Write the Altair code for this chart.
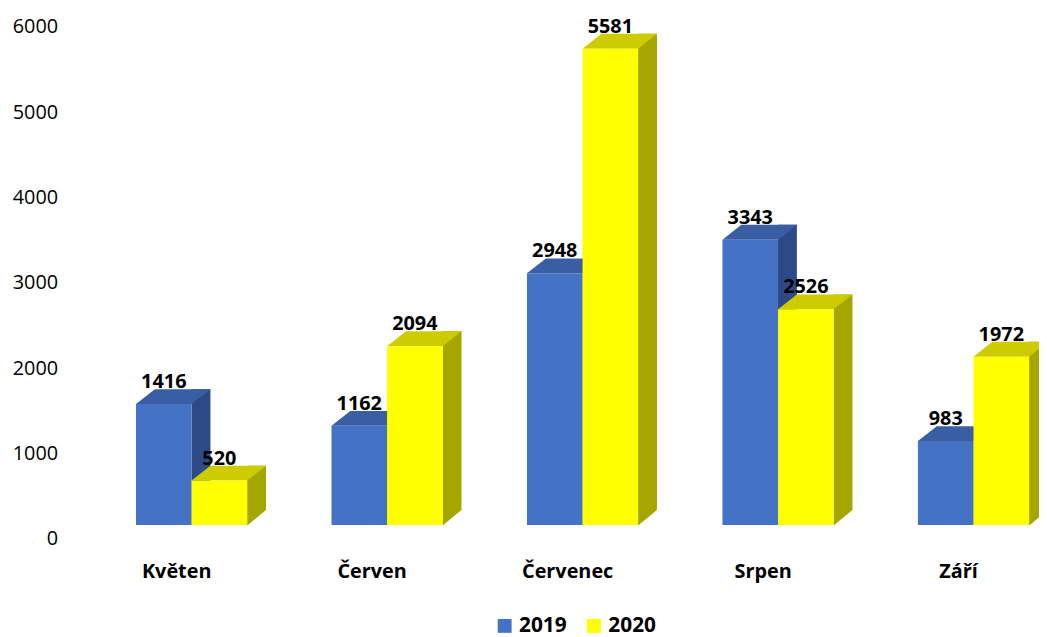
import altair as alt
import pandas as pd

categories = ["Květen", "Červen", "Červenec", "Srpen", "Září"]
years = ["2019", "2020"]
values_2019 = [1416, 1162, 2948, 3343, 983]
values_2020 = [520, 2094, 5581, 2526, 1972]
y_ticks = [0, 1000, 2000, 3000, 4000, 5000, 6000]

front_colors = ["#4472C4", "#FFFF00"]
top_colors = {"2019": "#3A5EA4", "2020": "#CCCC00"}
side_colors = {"2019": "#2E4A86", "2020": "#A6A600"}

rows = []
for m, a, b in zip(categories, values_2019, values_2020):
    rows.append({"month": m, "year": "2019", "value": a})
    rows.append({"month": m, "year": "2020", "value": b})
df = pd.DataFrame(rows)

FONT = "Open Sans"
DX, DY = 19, 15
HALF = 28

x_enc = alt.X(
    "month:N",
    sort=categories,
    title=None,
    scale=alt.Scale(range=[67, 967], paddingInner=0.43147, paddingOuter=0),
    axis=alt.Axis(labelAngle=0, domain=False, ticks=False, tickSize=0,
                  labelFont=FONT, labelFontSize=20, labelFontWeight="bold",
                  labelColor="#000000", labelOffset=-15, labelPadding=37),
)
xo_enc = alt.XOffset("year:N", sort=years)
y_enc = alt.Y(
    "value:Q",
    stack=None,
    title=None,
    scale=alt.Scale(domain=[0, 6000], nice=False),
    axis=alt.Axis(values=y_ticks, format="d", domain=False, ticks=False, tickSize=0,
                  grid=False, labelFont=FONT, labelFontSize=20, labelColor="#000000",
                  labelOffset=14, labelPadding=12),
)

base = alt.Chart(df)

top_shape = f"M{-HALF},0 L{HALF},0 L{HALF + DX},{-DY} L{-HALF + DX},{-DY} Z"
tri_shape = f"M{HALF},0.6 L{HALF + DX + 2},0.6 L{HALF + DX + 2},{-DY} L{HALF + DX},{-DY} Z"

side_shift = {"2019": DX / 2, "2020": 2 * HALF + DX / 2}

layers = []
for yr in years:
    sub = base.transform_filter(alt.datum.year == yr)
    side = sub.mark_bar(width=DX, xOffset=side_shift[yr], yOffset=-DY,
                        color=side_colors[yr]).encode(x=x_enc, y=y_enc)
    layers.append(side)
    if yr == "2020":
        tri = sub.transform_calculate(zero="0").mark_point(
            shape=tri_shape, size=4, filled=True, opacity=1, strokeWidth=0, color="#FFFFFF"
        ).encode(x=x_enc, xOffset=xo_enc, y=alt.Y("zero:Q"))
        layers.append(tri)
    top = sub.mark_point(shape=top_shape, size=4, filled=True, opacity=1,
                         strokeWidth=0, color=top_colors[yr]).encode(
        x=x_enc, xOffset=xo_enc, y=y_enc)
    layers.append(top)
    front = sub.mark_bar().encode(
        x=x_enc, xOffset=xo_enc, y=y_enc,
        color=alt.Color("year:N", sort=years,
                        scale=alt.Scale(domain=years, range=front_colors),
                        legend=alt.Legend(orient="none", legendX=428, legendY=607,
                                          direction="horizontal", title=None,
                                          labelFont=FONT, labelFontSize=21,
                                          labelFontWeight="bold", labelColor="#000000",
                                          symbolType="square", symbolSize=196,
                                          symbolStrokeWidth=0, symbolOpacity=1,
                                          columnPadding=16, labelOffset=4, padding=0)),
    )
    layers.append(front)

labels = base.mark_text(font=FONT, fontSize=20, fontWeight="bold", color="#000000",
                        baseline="alphabetic", dy=-16).encode(
    x=x_enc, xOffset=xo_enc, y=y_enc, text=alt.Text("value:Q"))
layers.append(labels)

chart = alt.layer(*layers).properties(
    width=969, height=516,
    padding={"left": 62, "top": 2.5, "right": 8, "bottom": 110.5},
    autosize="none",
).configure_view(stroke=None)

chart.save("out.html", embed_options={"renderer": "svg", "actions": False})
